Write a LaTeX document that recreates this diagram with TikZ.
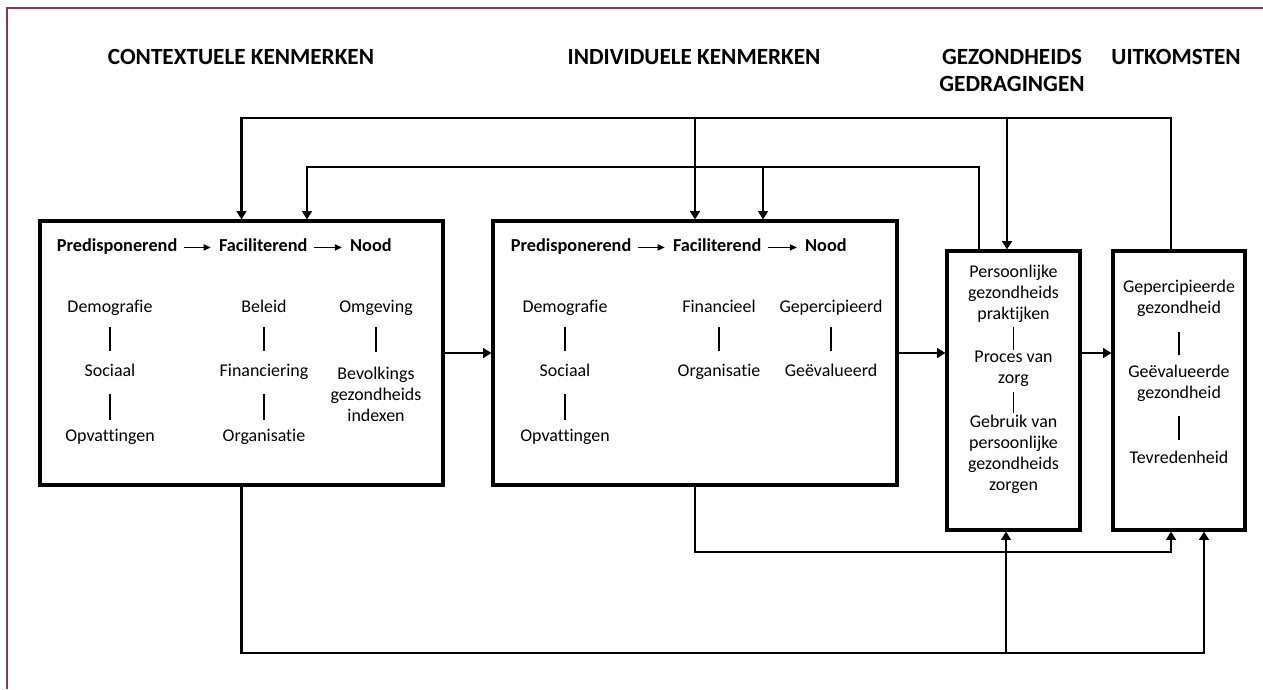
\documentclass[tikz,border=0pt]{standalone}
\usepackage{fontspec}
\setmainfont{Carlito}[Ligatures=NoCommon]
\usetikzlibrary{positioning,arrows.meta}
\definecolor{framered}{RGB}{137,51,93}

\begin{document}
\begin{tikzpicture}[x=0.02cm, y=-0.02cm, node distance=1.29cm]
        \tikzstyle{box} = [rectangle, draw, line width=1.8pt, inner sep=0pt]
        \tikzstyle{head} = [font=\fontsize{13.2}{15.3}\selectfont\bfseries, align=center, inner sep=0pt]
        \tikzstyle{kind} = [font=\fontsize{10.4}{12}\selectfont\bfseries, inner sep=0pt, text height=.7em, text depth=.2em]
        \tikzstyle{item} = [font=\fontsize{10.2}{12}\selectfont, align=center, inner sep=0pt]
        \tikzstyle{word} = [item, text height=.7em, text depth=.2em]
        \tikzstyle{flow} = [line width=1.5pt, -{Triangle[length=4.8pt,width=5.6pt]}]
        \tikzstyle{kindarrow} = [line width=0.6pt, -{Triangle[length=4pt,width=3.6pt]}, shorten <=0.12cm, shorten >=0.16cm]
        \tikzset{bar/.style 2 args={line width=1.1pt, shorten <=#1, shorten >=#2}}

        \useasboundingbox (0,0) rectangle (1263,689);
        \draw[framered, line width=1.1pt] (1263,8) -- (7,8) -- (7,689);

        % headings
        \node (hctx) [head] at (241,57) {CONTEXTUELE KENMERKEN};
        \node (hind) [head] at (694,57) {INDIVIDUELE KENMERKEN};
        \node (hged) [head] at (1012,70.5) {GEZONDHEIDS\\GEDRAGINGEN};
        \node (huit) [head] at (1176,57) {UITKOMSTEN};

        % the four blocks
        \node (ctx) [box, minimum width=8.06cm, minimum height=5.28cm] at (241.5,353) {};
        \node (ind) [box, minimum width=8.08cm, minimum height=5.28cm] at (695,353) {};
        \node (ged) [box, minimum width=2.66cm, minimum height=5.58cm] at (1013.5,390.5) {};
        \node (uit) [box, minimum width=2.64cm, minimum height=5.58cm] at (1179,390.5) {};

        % contextual block
        \node (pre1) [kind, anchor=west] at ([xshift=.36cm,yshift=-.56cm]ctx.north west) {Predisponerend};
        \node (fac1) [kind, right=0.82cm of pre1] {Faciliterend};
        \node (nood1) [kind, right=0.84cm of fac1] {Nood};
        \draw[kindarrow] (pre1) -- (fac1);
        \draw[kindarrow] (fac1) -- (nood1);

        \node (dem1) [word] at (110,308) {Demografie};
        \node (soc1) [word, below of=dem1] {Sociaal};
        \node (opv1) [word, below of=soc1] {Opvattingen};
        \node (bel1) [word] at (264,308) {Beleid};
        \node (fin1) [word, below of=bel1] {Financiering};
        \node (org1) [word, below of=fin1] {Organisatie};
        \node (omg1) [word] at (376,308) {Omgeving};
        \node (bev1) [item, below of=omg1, node distance=1.72cm] {Bevolkings\\gezondheids\\indexen};
        \draw[bar={.38cm}{.42cm}] (dem1.center) -- (soc1.center);
        \draw[bar={.44cm}{.34cm}] (soc1.center) -- (opv1.center);
        \draw[bar={.38cm}{.42cm}] (bel1.center) -- (fin1.center);
        \draw[bar={.44cm}{.34cm}] (fin1.center) -- (org1.center);
        \draw[bar={.38cm}{.84cm}] (omg1.center) -- (bev1.center);

        % individual block
        \node (pre2) [kind, anchor=west] at ([xshift=.38cm,yshift=-.56cm]ind.north west) {Predisponerend};
        \node (fac2) [kind, right=0.82cm of pre2] {Faciliterend};
        \node (nood2) [kind, right=0.86cm of fac2] {Nood};
        \draw[kindarrow] (pre2) -- (fac2);
        \draw[kindarrow] (fac2) -- (nood2);

        \node (dem2) [word] at (565,308) {Demografie};
        \node (soc2) [word, below of=dem2] {Sociaal};
        \node (opv2) [word, below of=soc2] {Opvattingen};
        \node (fin2) [word] at (719,308) {Financieel};
        \node (org2) [word, below of=fin2] {Organisatie};
        \node (gep2) [word] at (831,308) {Gepercipieerd};
        \node (gev2) [word, below of=gep2] {Geëvalueerd};
        \draw[bar={.38cm}{.42cm}] (dem2.center) -- (soc2.center);
        \draw[bar={.44cm}{.34cm}] (soc2.center) -- (opv2.center);
        \draw[bar={.38cm}{.42cm}] (fin2.center) -- (org2.center);
        \draw[bar={.38cm}{.42cm}] (gep2.center) -- (gev2.center);

        % health behaviour block
        \node (prak) [item] at (1013.5,294) {Persoonlijke\\gezondheids\\praktijken};
        \node (proc) [item, below of=prak, node distance=1.49cm] {Proces van\\zorg};
        \node (gebr) [item, below of=proc, node distance=1.71cm] {Gebruik van\\persoonlijke\\gezondheids\\zorgen};
        \draw[bar={.66cm}{.37cm}] (prak.center) -- (proc.center);
        \draw[bar={.47cm}{.82cm}] (proc.center) -- (gebr.center);

        % outcome block
        \node (pgez) [item] at (1179,298.5) {Gepercipieerde\\gezondheid};
        \node (egez) [item, below of=pgez, node distance=1.7cm] {Geëvalueerde\\gezondheid};
        \node (tevr) [word, below of=egez, node distance=1.51cm] {Tevredenheid};
        \draw[bar={.67cm}{.57cm}] (pgez.center) -- (egez.center);
        \draw[bar={.65cm}{.38cm}] (egez.center) -- (tevr.center);

        % forward arrows
        \draw[flow] (ctx) -- (ind);
        \draw[flow] (ind) -- (ind -| ged.west);
        \draw[flow] (ged.east |- ind) -- (uit.west |- ind);

        % feedback over the top
        \coordinate (upA) at (0,118);
        \coordinate (upB) at (0,167);
        \coordinate (uitOut) at ([xshift=-.16cm]uit.north);
        \coordinate (gedIn) at ([xshift=-.13cm]ged.north);
        \coordinate (gedOut) at ([xshift=-.69cm]ged.north);
        \coordinate (ctxIn) at ([xshift=1.31cm]ctx.north);
        \coordinate (indIn) at ([xshift=1.36cm]ind.north);
        \draw[flow] (uitOut) |- (upA -| ctx.north) -- (ctx.north);
        \draw[flow] (upA -| ind.north) -- (ind.north);
        \draw[flow] (upA -| gedIn) -- (gedIn);
        \draw[flow] (gedOut) |- (upB -| ctxIn) -- (ctxIn);
        \draw[flow] (upB -| indIn) -- (indIn);

        % links underneath
        \coordinate (lowA) at (0,552);
        \coordinate (lowB) at (0,653);
        \coordinate (uitInA) at ([xshift=.5cm]uit.south);
        \coordinate (uitInB) at ([xshift=-.16cm]uit.south);
        \coordinate (gedInB) at ([xshift=-.15cm]ged.south);
        \draw[flow] (ctx.south) |- (lowB -| uitInA) -- (uitInA);
        \draw[flow] (lowB -| gedInB) -- (gedInB);
        \draw[flow] (ind.south) |- (lowA -| uitInB) -- (uitInB);
    \end{tikzpicture}
\end{document}
